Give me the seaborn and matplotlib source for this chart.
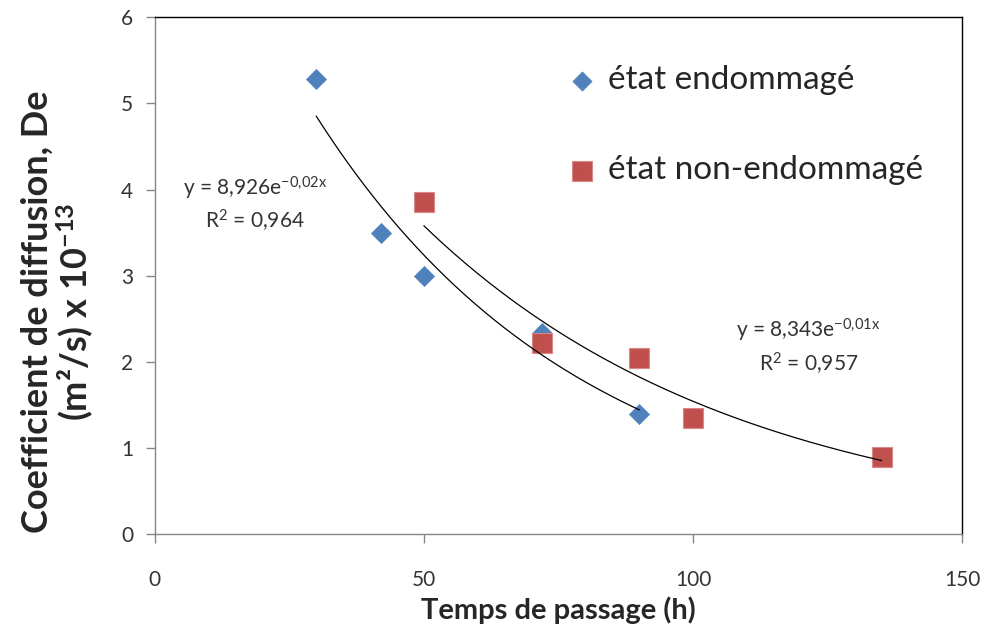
import numpy as np
import pandas as pd
import seaborn as sns
import matplotlib.pyplot as plt

# data
x_endo = [30, 42, 50, 72, 90]
y_endo = [5.28, 3.50, 3.00, 2.33, 1.39]
x_non = [50, 72, 90, 100, 135]
y_non = [3.85, 2.22, 2.05, 1.35, 0.90]

lab_endo = "état endommagé"
lab_non = "état non-endommagé"
eq_endo = ["y = 8,926e$^{-0{,}02x}$", "R$^2$ = 0,964"]
eq_non = ["y = 8,343e$^{-0{,}01x}$", "R$^2$ = 0,957"]

sns.set_style("white")
plt.rcParams['font.family'] = ['Lato', 'DejaVu Sans']
plt.rcParams['mathtext.fontset'] = 'custom'
plt.rcParams['mathtext.rm'] = 'Lato'
plt.rcParams['mathtext.it'] = 'Lato'
plt.rcParams['mathtext.bf'] = 'Lato:bold'

df_endo = pd.DataFrame({"t": x_endo, "De": y_endo})
df_non = pd.DataFrame({"t": x_non, "De": y_non})

fig = plt.figure(figsize=(9.85, 6.39), dpi=100)
ax = fig.add_axes([0.157, 0.164, 0.820, 0.809])

sns.scatterplot(data=df_endo, x="t", y="De", marker="D", s=105, color="#4F81BD",
                edgecolor="#4F81BD", linewidth=0.5, label=lab_endo, ax=ax, zorder=3)
sns.scatterplot(data=df_non, x="t", y="De", marker="s", s=210, color="#C0504D",
                edgecolor="#D98A88", linewidth=0.8, label=lab_non, ax=ax, zorder=3)

# exponential trend lines (least squares on log values)
for xs, ys in [(x_endo, y_endo), (x_non, y_non)]:
    b, a = np.polyfit(xs, np.log(ys), 1)
    xx = np.linspace(min(xs), max(xs), 200)
    ax.plot(xx, np.exp(a) * np.exp(b * xx), color="black", lw=0.9, zorder=4)

ax.text(18.6, 4.01, eq_endo[0], ha="center", va="center", fontsize=15, color="#333333")
ax.text(18.6, 3.63, eq_endo[1], ha="center", va="center", fontsize=15, color="#333333")
ax.text(121.4, 2.37, eq_non[0], ha="center", va="center", fontsize=15, color="#333333")
ax.text(121.4, 1.97, eq_non[1], ha="center", va="center", fontsize=15, color="#333333")

ax.set_xlim(0, 150)
ax.set_ylim(0, 6)
ax.set_xticks([0, 50, 100, 150])
ax.set_yticks(range(0, 7))
ax.tick_params(axis="both", direction="out", length=6.5, width=1, color="#868686",
               labelsize=15, labelcolor="#333333", pad=9, left=True, bottom=True)
ax.tick_params(axis="x", pad=19)

for s in ["left", "bottom"]:
    ax.spines[s].set_color("#868686")
for s in ["top", "right"]:
    ax.spines[s].set_color("black")
for s in ax.spines.values():
    s.set_linewidth(1)

ax.set_xlabel("Temps de passage (h)", fontsize=21, fontweight="bold", labelpad=5)
ax.set_ylabel("Coefficient de diffusion, De\n(m²/s) x 10$^{\\mathbf{-13}}$", fontsize=26,
              fontweight="bold", linespacing=1.05)
ax.yaxis.set_label_coords(-0.072, 0.43)

leg = ax.legend(loc="upper left", bbox_to_anchor=(0.473, 0.965), frameon=False,
                fontsize=24, labelspacing=1.8, handlelength=0.9, handletextpad=0.35,
                markerscale=0.95)

plt.savefig("out.png", dpi=100)
